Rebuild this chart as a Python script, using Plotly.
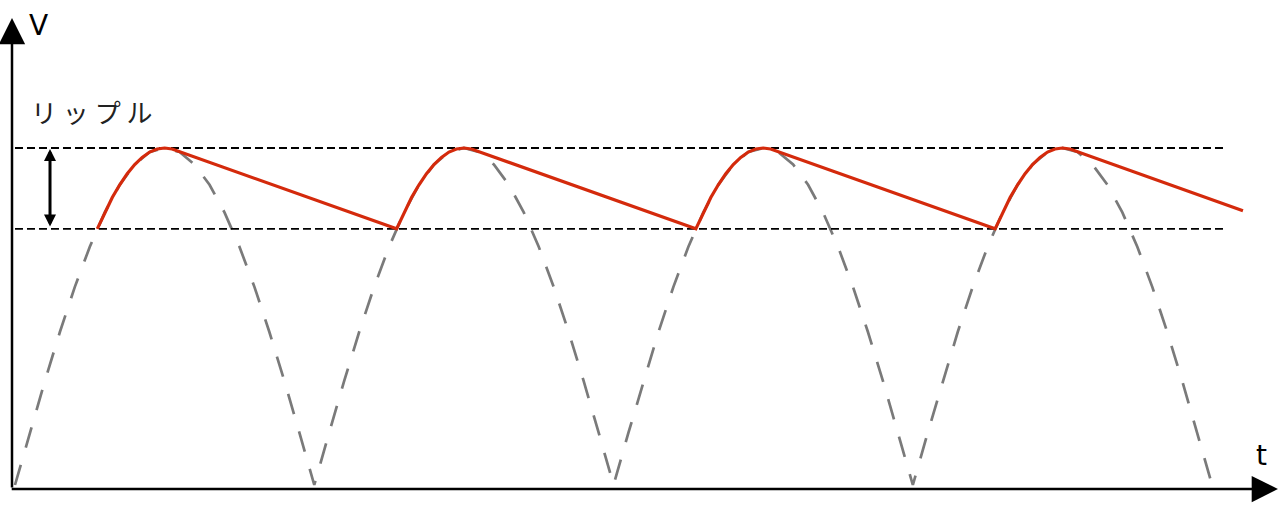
import plotly.graph_objects as go

# Full-wave rectified source voltage (dashed); t in half-periods, V normalised to peak
src_t = [0.0, 0.05, 0.1, 0.15, 0.2, 0.25, 0.3, 0.35, 0.4, 0.45, 0.5, 0.55, 0.6, 0.65, 0.7, 0.75, 0.8, 0.85, 0.9, 0.95,
         1.0, 1.05, 1.1, 1.15, 1.2, 1.25, 1.3, 1.35, 1.4, 1.45, 1.5, 1.55, 1.6, 1.65, 1.7, 1.75, 1.8, 1.85, 1.9, 1.95,
         2.0, 2.05, 2.1, 2.15, 2.2, 2.25, 2.3, 2.35, 2.4, 2.45, 2.5, 2.55, 2.6, 2.65, 2.7, 2.75, 2.8, 2.85, 2.9, 2.95,
         3.0, 3.05, 3.1, 3.15, 3.2, 3.25, 3.3, 3.35, 3.4, 3.45, 3.5, 3.55, 3.6, 3.65, 3.7, 3.75, 3.8, 3.85, 3.9, 3.95,
         4.0]
src_v = [0.0, 0.156, 0.309, 0.454, 0.588, 0.707, 0.809, 0.891, 0.951, 0.988, 1.0, 0.988, 0.951, 0.891, 0.809, 0.707, 0.588, 0.454, 0.309, 0.156,
         0.0, 0.156, 0.309, 0.454, 0.588, 0.707, 0.809, 0.891, 0.951, 0.988, 1.0, 0.988, 0.951, 0.891, 0.809, 0.707, 0.588, 0.454, 0.309, 0.156,
         0.0, 0.156, 0.309, 0.454, 0.588, 0.707, 0.809, 0.891, 0.951, 0.988, 1.0, 0.988, 0.951, 0.891, 0.809, 0.707, 0.588, 0.454, 0.309, 0.156,
         0.0, 0.156, 0.309, 0.454, 0.588, 0.707, 0.809, 0.891, 0.951, 0.988, 1.0, 0.988, 0.951, 0.891, 0.809, 0.707, 0.588, 0.454, 0.309, 0.156,
         0.0]

# Smoothed output voltage (red)
out_t = [0.275, 0.3, 0.325, 0.35, 0.375, 0.4, 0.425, 0.45, 0.475, 0.5, 0.525,
         1.275, 1.3, 1.325, 1.35, 1.375, 1.4, 1.425, 1.45, 1.475, 1.5, 1.525,
         2.275, 2.3, 2.325, 2.35, 2.375, 2.4, 2.425, 2.45, 2.475, 2.5, 2.525,
         3.275, 3.3, 3.325, 3.35, 3.375, 3.4, 3.425, 3.45, 3.475, 3.5, 3.525,
         4.103]
out_v = [0.760, 0.809, 0.853, 0.891, 0.924, 0.951, 0.972, 0.988, 0.997, 1.0, 0.997,
         0.760, 0.809, 0.853, 0.891, 0.924, 0.951, 0.972, 0.988, 0.997, 1.0, 0.997,
         0.760, 0.809, 0.853, 0.891, 0.924, 0.951, 0.972, 0.988, 0.997, 1.0, 0.997,
         0.760, 0.809, 0.853, 0.891, 0.924, 0.951, 0.972, 0.988, 0.997, 1.0, 0.997,
         0.814]

# Ripple reference levels
ref_levels = [1.0, 0.76]
ref_t = [0.0, 4.04]
ripple_t = 0.117
ripple_label = "リ ッ プ ル"
x_label = "t"
y_label = "V"

fig = go.Figure()

fig.add_trace(go.Scatter(x=src_t, y=src_v, mode="lines",
                         line=dict(color="#7a7a7a", width=2.7, dash="21px,18px"),
                         hoverinfo="skip", showlegend=False))
for lv in ref_levels:
    fig.add_trace(go.Scatter(x=ref_t, y=[lv, lv], mode="lines",
                             line=dict(color="black", width=1.8, dash="8px,4px"),
                             hoverinfo="skip", showlegend=False))
fig.add_trace(go.Scatter(x=out_t, y=out_v, mode="lines",
                         line=dict(color="#d42a0c", width=3.2),
                         hoverinfo="skip", showlegend=False))

# axes with arrows
fig.add_annotation(x=-0.01, y=1.386, ax=-0.01, ay=-0.012, xref="x", yref="y", axref="x", ayref="y",
                   showarrow=True, arrowhead=2, arrowwidth=2.5, arrowsize=2.1, arrowcolor="black",
                   standoff=0, text="")
fig.add_annotation(x=4.22, y=-0.012, ax=-0.016, ay=-0.012, xref="x", yref="y", axref="x", ayref="y",
                   showarrow=True, arrowhead=2, arrowwidth=2.5, arrowsize=2.1, arrowcolor="black",
                   standoff=0, text="")
# ripple double arrow
fig.add_annotation(x=ripple_t, y=ref_levels[0], ax=ripple_t, ay=ref_levels[1], xref="x", yref="y",
                   axref="x", ayref="y", showarrow=True, arrowhead=2, startarrowhead=2,
                   arrowside="end+start", arrowwidth=3, arrowsize=0.8, startarrowsize=0.8,
                   arrowcolor="black", standoff=1, startstandoff=1, text="")

fig.add_annotation(x=0.08, y=1.365, xref="x", yref="y", text=y_label, showarrow=False,
                   font=dict(family="DejaVu Sans", size=28, color="black"))
fig.add_annotation(x=4.166, y=0.089, xref="x", yref="y", text=x_label, showarrow=False,
                   font=dict(family="DejaVu Sans", size=28, color="black"))
fig.add_annotation(x=0.254, y=1.107, xref="x", yref="y", text=ripple_label, showarrow=False,
                   font=dict(family="Noto Sans CJK JP", size=26, color="#222222"))

fig.update_layout(
    width=1287, height=519,
    margin=dict(l=0, r=0, t=0, b=0),
    paper_bgcolor="white", plot_bgcolor="white",
    xaxis=dict(range=[-0.0501, 4.2502], visible=False, fixedrange=True),
    yaxis=dict(range=[-0.1009, 1.4392], visible=False, fixedrange=True),
    showlegend=False,
)

fig.write_html("out.html", config={"displayModeBar": False},
               post_script="document.body.style.margin='0px';document.body.style.overflow='hidden';")
